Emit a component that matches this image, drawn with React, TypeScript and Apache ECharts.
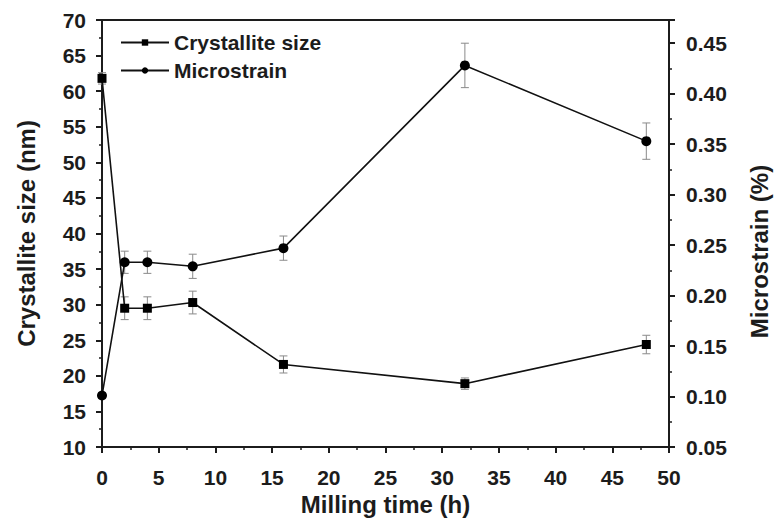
import React, { useEffect, useRef } from "react";
import * as echarts from "echarts";

const millingTime = [0, 2, 4, 8, 16, 32, 48];
const crystalliteSize = [61.8, 29.5, 29.5, 30.3, 21.6, 18.9, 24.4];
const crystalliteErr = [0.8, 1.6, 1.6, 1.6, 1.2, 0.8, 1.3];
const microstrain = [0.101, 0.233, 0.233, 0.229, 0.247, 0.428, 0.353];
const microstrainErr = [0.003, 0.011, 0.011, 0.012, 0.012, 0.022, 0.018];

const seriesNames = ["Crystallite size", "Microstrain"];
const xTitle = "Milling time (h)";
const yLeftTitle = "Crystallite size (nm)";
const yRightTitle = "Microstrain (%)";

const FONT = "'Liberation Sans', Arial, sans-serif";
const INK = "#1c1c1c";

function errorBarRender(params: any, api: any) {
  const x = api.value(0);
  const lo = api.value(1);
  const hi = api.value(2);
  const p1 = api.coord([x, lo]);
  const p2 = api.coord([x, hi]);
  const w = 4;
  const style = { stroke: "#8a8a8a", lineWidth: 1 };
  return {
    type: "group",
    children: [
      { type: "line", shape: { x1: p1[0], y1: p1[1], x2: p2[0], y2: p2[1] }, style },
      { type: "line", shape: { x1: p1[0] - w, y1: p1[1], x2: p1[0] + w, y2: p1[1] }, style },
      { type: "line", shape: { x1: p2[0] - w, y1: p2[1], x2: p2[0] + w, y2: p2[1] }, style },
    ],
  };
}

export default function App() {
  const ref = useRef<HTMLDivElement>(null);
  useEffect(() => {
    if (!ref.current) return;
    const chart = echarts.init(ref.current, null, { renderer: "svg" });
    const labelStyle = { fontFamily: FONT, fontWeight: "bold" as const, fontSize: 21, color: INK };
    const nameStyle = { fontFamily: FONT, fontWeight: "bold" as const, fontSize: 24, color: INK };
    const axisLine = { show: true, lineStyle: { color: INK, width: 2 } };
    const tick = { show: true, inside: false, length: 6, lineStyle: { color: INK, width: 2 } };
    const minor = { show: true, splitNumber: 2, length: 3, lineStyle: { color: INK, width: 1.5 } };

    const sizePts = millingTime.map((t, i) => [t, crystalliteSize[i]]);
    const strainPts = millingTime.map((t, i) => [t, microstrain[i]]);
    const sizeErr = millingTime.map((t, i) => [t, crystalliteSize[i] - crystalliteErr[i], crystalliteSize[i] + crystalliteErr[i]]);
    const strainErr = millingTime.map((t, i) => [t, microstrain[i] - microstrainErr[i], microstrain[i] + microstrainErr[i]]);

    chart.setOption({
      animation: false,
      backgroundColor: "#ffffff",
      grid: {
        left: 102,
        right: 97,
        top: 20,
        bottom: 75,
        show: true,
        borderColor: INK,
        borderWidth: 2,
        backgroundColor: "transparent",
      },
      legend: {
        data: seriesNames,
        orient: "vertical",
        left: 115,
        top: 27,
        itemWidth: 48,
        itemHeight: 8,
        itemGap: 7,
        textStyle: { ...labelStyle, fontSize: 21 },
      },
      xAxis: {
        type: "value",
        min: 0,
        max: 50,
        interval: 5,
        name: xTitle,
        nameLocation: "middle",
        nameGap: 44,
        nameTextStyle: nameStyle,
        axisLine,
        axisTick: tick,
        minorTick: minor,
        splitLine: { show: false },
        axisLabel: { ...labelStyle, margin: 20 },
      },
      yAxis: [
        {
          type: "value",
          min: 10,
          max: 70,
          interval: 5,
          name: yLeftTitle,
          nameLocation: "middle",
          nameRotate: 90,
          nameGap: 64,
          nameTextStyle: nameStyle,
          axisLine,
          axisTick: tick,
          minorTick: minor,
          splitLine: { show: false },
          axisLabel: { ...labelStyle, margin: 16 },
        },
        {
          type: "value",
          position: "right",
          min: 0.05,
          max: 0.473,
          interval: 0.05,
          name: yRightTitle,
          nameLocation: "middle",
          nameRotate: 90,
          nameGap: 78,
          nameTextStyle: { ...nameStyle, padding: [0, 36, 0, 0] },
          axisLine,
          axisTick: tick,
          minorTick: minor,
          splitLine: { show: false },
          axisLabel: {
            ...labelStyle,
            margin: 17,
            showMaxLabel: false,
            formatter: (v: number) => v.toFixed(2),
          },
        },
      ],
      series: [
        {
          type: "custom",
          name: "sizeErr",
          xAxisIndex: 0,
          yAxisIndex: 0,
          renderItem: errorBarRender,
          data: sizeErr,
          encode: { x: 0, y: [1, 2] },
          z: 1,
          silent: true,
        },
        {
          type: "custom",
          name: "strainErr",
          xAxisIndex: 0,
          yAxisIndex: 1,
          renderItem: errorBarRender,
          data: strainErr,
          encode: { x: 0, y: [1, 2] },
          z: 1,
          silent: true,
        },
        {
          type: "line",
          name: seriesNames[0],
          yAxisIndex: 0,
          data: sizePts,
          symbol: "rect",
          symbolSize: 9,
          itemStyle: { color: "#000" },
          lineStyle: { color: "#111", width: 1.6 },
          z: 3,
        },
        {
          type: "line",
          name: seriesNames[1],
          yAxisIndex: 1,
          data: strainPts,
          symbol: "circle",
          symbolSize: 10,
          itemStyle: { color: "#000" },
          lineStyle: { color: "#111", width: 1.6 },
          z: 3,
        },
      ],
    });
    return () => chart.dispose();
  }, []);
  return (
    <div
      ref={ref}
      style={{ position: "absolute", left: 0, top: 0, width: 779, height: 522, background: "#fff" }}
    />
  );
}
